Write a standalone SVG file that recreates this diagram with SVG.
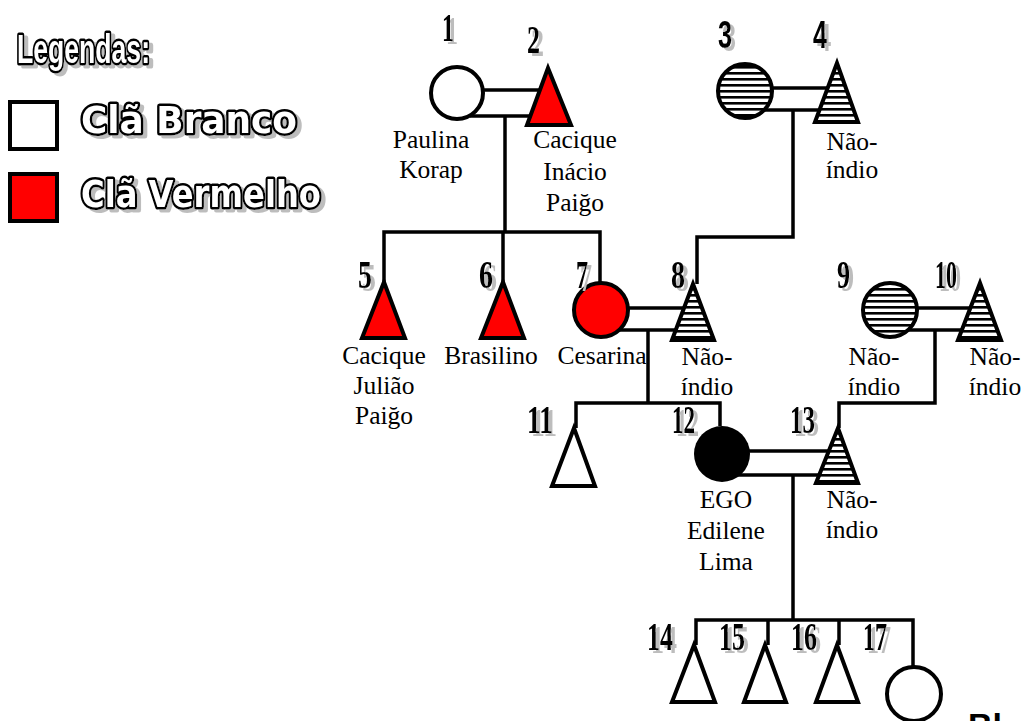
<svg xmlns="http://www.w3.org/2000/svg" width="1024" height="721" viewBox="0 0 1024 721">
<defs>
<pattern id="hatch" patternUnits="userSpaceOnUse" width="8" height="6">
<rect width="8" height="6" fill="#fff"/>
<rect y="0" width="8" height="2.6" fill="#000"/>
</pattern>
<filter id="ds" x="-30%" y="-30%" width="170%" height="170%">
<feOffset in="SourceAlpha" dx="4" dy="3" result="o"/>
<feFlood flood-color="#bdbdbd"/>
<feComposite in2="o" operator="in" result="s"/>
<feMerge><feMergeNode in="s"/><feMergeNode in="SourceGraphic"/></feMerge>
</filter>
<style>
.ln{fill:none;stroke:#000;stroke-width:3.5}
.sh{stroke:#000;stroke-width:4;stroke-linejoin:miter}
.w{fill:#fff}
.r{fill:#ff0000}
.k{fill:#000}
.h{fill:url(#hatch)}
.lb{font-family:"Liberation Serif","Times New Roman",serif;font-size:25.5px;fill:#000;text-anchor:middle}
.num{font-family:"Liberation Serif","Times New Roman",serif;font-weight:bold;font-size:40px;fill:#000;filter:url(#ds)}
.nss{font-family:"Liberation Sans Narrow","Liberation Sans",sans-serif;font-weight:bold;font-size:38px;fill:#000;filter:url(#ds)}
.lg{font-family:"Liberation Sans Narrow","Liberation Sans",sans-serif;font-weight:bold;fill:#fff;stroke:#000;stroke-width:5;stroke-linejoin:round;paint-order:stroke;filter:url(#ds)}
.cl{font-family:"DejaVu Sans","Liberation Sans",sans-serif;font-weight:bold;fill:#fff;stroke:#000;stroke-width:5;stroke-linejoin:round;paint-order:stroke;filter:url(#ds)}
</style>
</defs>
<rect width="1024" height="721" fill="#fff"/>

<g id="legend">
<text class="lg" x="17" y="63" font-size="40" textLength="133" lengthAdjust="spacingAndGlyphs">Legendas:</text>
<rect class="sh w" x="10" y="102" width="47" height="47"/>
<text class="cl" x="81" y="133" font-size="37" textLength="216" lengthAdjust="spacingAndGlyphs">Clã Branco</text>
<rect class="sh r" x="10" y="174" width="47" height="47"/>
<text class="cl" x="81" y="207" font-size="38" textLength="240" lengthAdjust="spacingAndGlyphs">Clã Vermelho</text>
</g>

<g id="connectors">
<line class="ln" x1="460" y1="90" x2="548" y2="90"/>
<line class="ln" x1="470" y1="116" x2="548" y2="116"/>
<polyline class="ln" points="505,116 505,232"/>
<polyline class="ln" points="384,282 384,232 600,232 600,283"/>
<line class="ln" x1="503" y1="232" x2="503" y2="282"/>
<line class="ln" x1="748" y1="88" x2="837" y2="88"/>
<line class="ln" x1="760" y1="110" x2="837" y2="110"/>
<polyline class="ln" points="793,110 793,237 697,237 697,284"/>
<line class="ln" x1="604" y1="308" x2="693" y2="308"/>
<line class="ln" x1="615" y1="330" x2="693" y2="330"/>
<polyline class="ln" points="648,330 648,403"/>
<polyline class="ln" points="576,428 576,403 720,403 720,426"/>
<line class="ln" x1="893" y1="308" x2="980" y2="308"/>
<line class="ln" x1="905" y1="330" x2="980" y2="330"/>
<polyline class="ln" points="935,330 935,403 839,403 839,428"/>
<line class="ln" x1="725" y1="451" x2="838" y2="451"/>
<line class="ln" x1="738" y1="475" x2="838" y2="475"/>
<polyline class="ln" points="793,475 793,620"/>
<polyline class="ln" points="696,645 696,620 913,620 913,667"/>
<line class="ln" x1="768" y1="620" x2="768" y2="645"/>
<line class="ln" x1="839" y1="620" x2="839" y2="645"/>
</g>

<g id="n1">
<circle class="sh w" cx="457" cy="93" r="26"/>
<text class="num" x="442" y="41" font-size="34" textLength="12" lengthAdjust="spacingAndGlyphs">1</text>
<text class="lb" x="431" y="148">Paulina</text>
<text class="lb" x="431" y="178">Korap</text>
</g>
<g id="n2">
<polygon class="sh r" points="548,68 527,125 571,125"/>
<text class="num" x="527" y="53" font-size="27" textLength="13" lengthAdjust="spacingAndGlyphs">2</text>
<text class="lb" x="575" y="148">Cacique</text>
<text class="lb" x="575" y="180">Inácio</text>
<text class="lb" x="575" y="211">Paiğo</text>
</g>
<g id="n3">
<circle class="sh h" cx="745" cy="91" r="27"/>
<text class="nss" x="718" y="48" textLength="14" lengthAdjust="spacingAndGlyphs">3</text>
</g>
<g id="n4">
<polygon class="sh h" points="837,63 815,122 858,122"/>
<text class="nss" x="813" y="48" textLength="14" lengthAdjust="spacingAndGlyphs">4</text>
<text class="lb" x="852" y="150">Não-</text>
<text class="lb" x="852" y="178">índio</text>
</g>
<g id="n5">
<polygon class="sh r" points="384,282 362,338 405,338"/>
<text class="num" x="358" y="288" textLength="14" lengthAdjust="spacingAndGlyphs">5</text>
<text class="lb" x="384" y="364">Cacique</text>
<text class="lb" x="384" y="394">Julião</text>
<text class="lb" x="384" y="424">Paiğo</text>
</g>
<g id="n6">
<polygon class="sh r" points="503,282 481,338 524,338"/>
<text class="num" x="479" y="288" textLength="14" lengthAdjust="spacingAndGlyphs">6</text>
<text class="lb" x="491" y="364">Brasilino</text>
</g>
<g id="n7">
<circle class="sh r" cx="601" cy="310" r="27"/>
<text class="num" x="576" y="288" textLength="12" lengthAdjust="spacingAndGlyphs">7</text>
<text class="lb" x="602" y="364">Cesarina</text>
</g>
<g id="n8">
<polygon class="sh h" points="693,284 672,340 714,340"/>
<text class="num" x="671" y="288" textLength="14" lengthAdjust="spacingAndGlyphs">8</text>
<text class="lb" x="707" y="365">Não-</text>
<text class="lb" x="707" y="395">índio</text>
</g>
<g id="n9">
<circle class="sh h" cx="890" cy="310" r="27"/>
<text class="num" x="837" y="288" textLength="13" lengthAdjust="spacingAndGlyphs">9</text>
<text class="lb" x="874" y="365">Não-</text>
<text class="lb" x="874" y="395">índio</text>
</g>
<g id="n10">
<polygon class="sh h" points="980,283 958,340 1001,340"/>
<text class="num" x="935" y="288" textLength="22" lengthAdjust="spacingAndGlyphs">10</text>
<text class="lb" x="995" y="365">Não-</text>
<text class="lb" x="995" y="395">índio</text>
</g>
<g id="n11">
<polygon class="sh w" points="574,428 552,486 595,486"/>
<text class="num" x="527" y="433" textLength="26" lengthAdjust="spacingAndGlyphs">11</text>
</g>
<g id="n12">
<circle class="k" cx="722" cy="454" r="28"/>
<text class="num" x="672" y="433" textLength="23" lengthAdjust="spacingAndGlyphs">12</text>
<text class="lb" x="726" y="508">EGO</text>
<text class="lb" x="726" y="539">Edilene</text>
<text class="lb" x="726" y="570">Lima</text>
</g>
<g id="n13">
<polygon class="sh h" points="838,428 816,483 858,483"/>
<text class="num" x="790" y="433" textLength="25" lengthAdjust="spacingAndGlyphs">13</text>
<text class="lb" x="852" y="508">Não-</text>
<text class="lb" x="852" y="538">índio</text>
</g>
<g id="n14">
<polygon class="sh w" points="694,645 672,702 715,702"/>
<text class="num" x="647" y="650" textLength="26" lengthAdjust="spacingAndGlyphs">14</text>
</g>
<g id="n15">
<polygon class="sh w" points="765,645 744,702 786,702"/>
<text class="num" x="719" y="650" textLength="26" lengthAdjust="spacingAndGlyphs">15</text>
</g>
<g id="n16">
<polygon class="sh w" points="837,645 816,702 858,702"/>
<text class="num" x="791" y="650" textLength="26" lengthAdjust="spacingAndGlyphs">16</text>
</g>
<g id="n17">
<circle class="sh w" cx="914" cy="694" r="27"/>
<text class="num" x="863" y="650" textLength="24" lengthAdjust="spacingAndGlyphs">17</text>
</g>
<text x="968" y="737" style="font-family:'Liberation Sans',sans-serif;font-weight:bold;font-size:34px;fill:#000">Bl</text>
</svg>
